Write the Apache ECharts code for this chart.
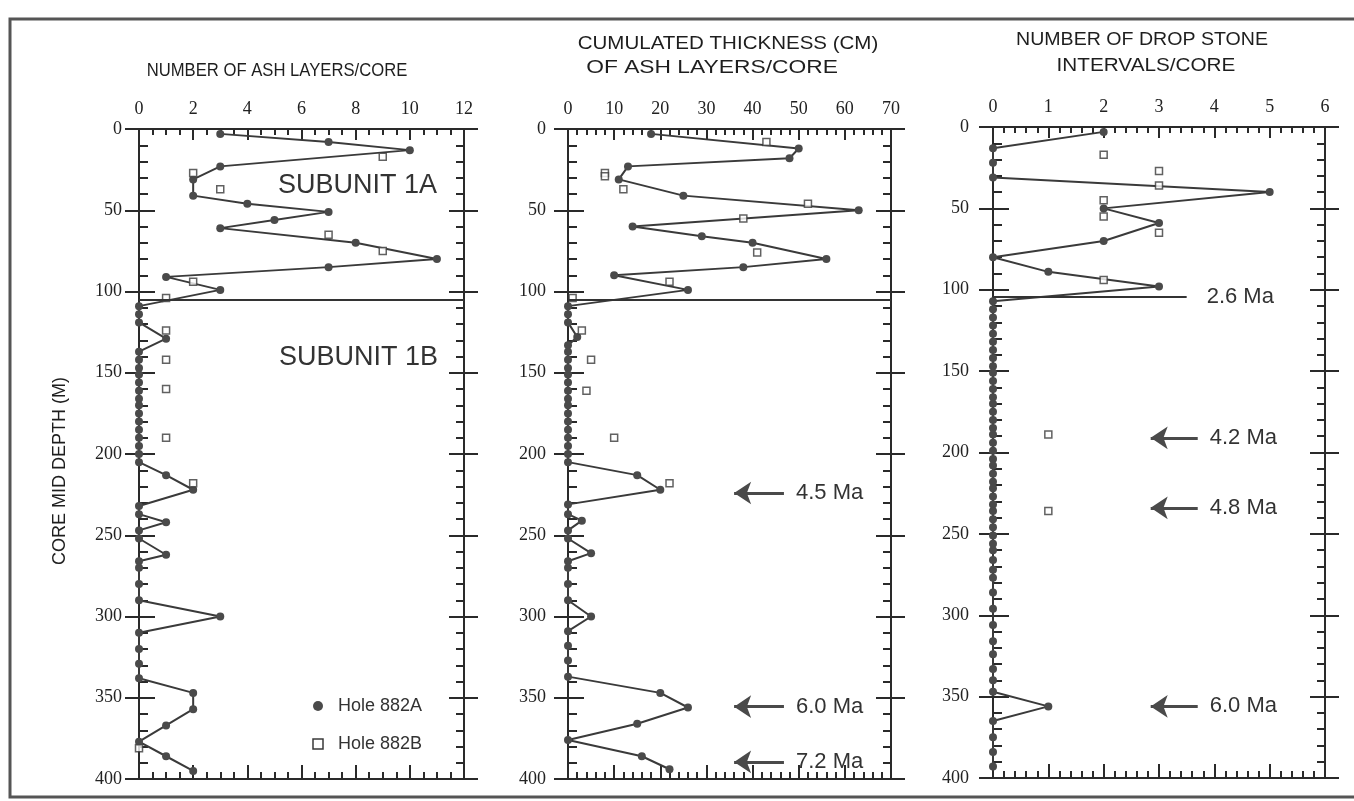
<!DOCTYPE html>
<html>
<head>
<meta charset="utf-8">
<script src="https://cdn.jsdelivr.net/npm/echarts@6/dist/echarts.min.js"></script>
<style>
html,body{margin:0;padding:0;background:#fff;}
#chart{width:1354px;height:801px;}
</style>
</head>
<body>
<div id="chart"></div>
<script>
// ---------- DATA ----------
// Panel 1: number of ash layers / core
const ashDepthA = [3,8,13,23,31,41,46,51,56,61,70,80,85,91,99,109,114,119,129,137,142,147,151,156,161,166,170,175,180,185,190,195,200,205,213,222,232,237,242,247,252,262,266,270,280,290,300,310,320,329,338,347,357,367,377,386,395];
const ashCountA = [3,7,10,3,2,2,4,7,5,3,8,11,7,1,3,0,0,0,1,0,0,0,0,0,0,0,0,0,0,0,0,0,0,0,1,2,0,0,1,0,0,1,0,0,0,0,3,0,0,0,0,2,2,1,0,1,2];
const ashDepthB = [17,27,37,65,75,94,104,124,142,160,190,218,381];
const ashCountB = [9,2,3,7,9,2,1,1,1,1,1,2,0];

// Panel 2: cumulated thickness (cm) of ash layers / core
const thickDepthA = [3,12,18,23,31,41,50,60,66,70,80,85,90,99,109,114,119,128,133,137,142,147,151,156,161,166,170,175,180,185,190,195,200,205,213,222,231,237,241,247,252,261,266,270,280,290,300,309,318,327,337,347,356,366,376,386,394];
const thickCmA    = [18,50,48,13,11,25,63,14,29,40,56,38,10,26,0,0,0,2,0,0,0,0,0,0,0,0,0,0,0,0,0,0,0,0,15,20,0,0,3,0,0,5,0,0,0,0,5,0,0,0,0,20,26,15,0,16,22];
const thickDepthB = [8,27,29,37,46,55,76,94,104,124,142,161,190,218];
const thickCmB    = [43,8,8,12,52,38,41,22,1,3,5,4,10,22];

// Panel 3: number of drop stone intervals / core
const dropDepthA = [3,13,22,31,40,50,59,70,80,89,98,107,112,117,122,127,132,137,142,147,151,156,161,166,170,175,180,185,189,194,199,204,208,213,218,222,227,232,236,241,246,251,256,260,266,272,277,286,296,306,316,324,333,340,347,356,365,375,384,393];
const dropCountA = [2,0,0,0,5,2,3,2,0,1,3,0,0,0,0,0,0,0,0,0,0,0,0,0,0,0,0,0,0,0,0,0,0,0,0,0,0,0,0,0,0,0,0,0,0,0,0,0,0,0,0,0,0,0,0,1,0,0,0,0];
const dropDepthB = [17,27,36,45,55,65,94,189,236];
const dropCountB = [2,3,3,2,2,3,2,1,1];

// axis tick label settings
const xMaxes = [12, 70, 6];
const xIntervals = [2, 10, 1];
const xMinorSplits = [4, 5, 5];
const depthMax = 400;
const depthInterval = 50;

// age annotations (depth in m)
const ageArrowsP2 = [{depth:224, label:'4.5 Ma'}, {depth:355.5, label:'6.0 Ma'}, {depth:389.5, label:'7.2 Ma'}];
const ageArrowsP3 = [{depth:191, label:'4.2 Ma'}, {depth:234, label:'4.8 Ma'}, {depth:356, label:'6.0 Ma'}];
const boundaryDepth = 105;

// ---------- BUILD ----------
function zip(xs, ys){ return ys.map((d,i)=>[xs[i], d]); }

const grids = [
  {left:139, top:129, width:325, height:650},
  {left:568, top:129, width:323, height:650},
  {left:993, top:127, width:332, height:651}
];
const labelMargins = [17, 22, 24];
const INK = '#2a2a2a';

const xAxes = [], yAxes = [];
grids.forEach((g, i) => {
  const baseX = {
    gridIndex:i, type:'value', min:0, max:xMaxes[i], interval:xIntervals[i],
    splitLine:{show:false},
    axisLine:{show:true, onZero:false, lineStyle:{color:INK, width:2}}
  };
  xAxes.push(Object.assign({}, baseX, {
    position:'top',
    axisTick:{show:true, inside:true, length:11, lineStyle:{color:INK, width:2}},
    minorTick:{show:true, splitNumber:xMinorSplits[i], length:6, lineStyle:{color:INK, width:2}},
    axisLabel:{show:true, fontFamily:'Liberation Serif', fontSize:18, color:'#222', margin:11}
  }));
  xAxes.push(Object.assign({}, baseX, {
    position:'bottom',
    axisTick:{show:true, inside:true, length:14, lineStyle:{color:INK, width:2}},
    minorTick:{show:true, splitNumber:xMinorSplits[i], length:7, lineStyle:{color:INK, width:2}},
    axisLabel:{show:false}
  }));
  const baseY = {
    gridIndex:i, type:'value', inverse:true, min:0, max:depthMax, interval:depthInterval,
    splitLine:{show:false},
    axisLine:{show:true, onZero:false, lineStyle:{color:INK, width:2}}
  };
  yAxes.push(Object.assign({}, baseY, {
    position:'left',
    axisTick:{show:true, inside:false, length:14, lineStyle:{color:INK, width:2}},
    axisLabel:{show:true, fontFamily:'Liberation Serif', fontSize:18, color:'#222', margin:labelMargins[i]}
  }));
  yAxes.push(Object.assign({}, baseY, {
    position:'left',
    axisTick:{show:true, inside:true, length:16, lineStyle:{color:INK, width:2}},
    minorTick:{show:true, splitNumber:5, length:9, lineStyle:{color:INK, width:2}},
    axisLabel:{show:false}
  }));
  yAxes.push(Object.assign({}, baseY, {
    position:'right',
    axisTick:{show:true, inside:false, length:14, lineStyle:{color:INK, width:2}},
    axisLabel:{show:false}
  }));
  yAxes.push(Object.assign({}, baseY, {
    position:'right',
    axisTick:{show:true, inside:true, length:15, lineStyle:{color:INK, width:2}},
    minorTick:{show:true, splitNumber:5, length:8, lineStyle:{color:INK, width:2}},
    axisLabel:{show:false}
  }));
});

function lineSeries(gi, data, markLine){
  const s = {
    type:'line', name:'Hole 882A', xAxisIndex:gi*2, yAxisIndex:gi*4,
    data:data, symbol:'circle', symbolSize:8, showSymbol:true,
    lineStyle:{color:'#3a3a3a', width:2},
    itemStyle:{color:'#4a4a4a'},
    silent:true, z:3
  };
  if (markLine) s.markLine = markLine;
  return s;
}
function squareSeries(gi, data, markLine){
  const s = {
    type:'scatter', name:'Hole 882B', xAxisIndex:gi*2, yAxisIndex:gi*4,
    data:data, symbol:'rect', symbolSize:7,
    itemStyle:{color:'#fff', borderColor:'#3a3a3a', borderWidth:1.5},
    silent:true, z:4
  };
  if (markLine) s.markLine = markLine;
  return s;
}
function arrowMarkLine(arrows, x1, x2){
  return {
    silent:true, symbol:['arrow','none'], symbolSize:17, animation:false,
    lineStyle:{color:'#4a4a4a', width:3, type:'solid'},
    label:{show:true, position:'end', distance:12, color:'#333', fontFamily:'Liberation Sans', fontSize:22},
    data: arrows.map(a => [
      {coord:[x1, a.depth]},
      {coord:[x2, a.depth], label:{formatter:a.label}}
    ])
  };
}
const boundaryFull = {
  silent:true, symbol:['none','none'], animation:false,
  lineStyle:{color:'#333', width:2, type:'solid'}, label:{show:false},
  data:[{yAxis:boundaryDepth}]
};
const boundaryP3 = {
  silent:true, symbol:['none','none'], animation:false,
  lineStyle:{color:'#333', width:2, type:'solid'},
  label:{show:true, position:'end', distance:20, color:'#333', fontFamily:'Liberation Sans', fontSize:22},
  data:[[{coord:[0, 104.5]}, {coord:[3.5, 104.5], label:{formatter:'2.6 Ma'}}]]
};

const series = [
  lineSeries(0, zip(ashCountA, ashDepthA)),
  squareSeries(0, zip(ashCountB, ashDepthB), boundaryFull),
  lineSeries(1, zip(thickCmA, thickDepthA), arrowMarkLine(ageArrowsP2, 36, 46.8)),
  squareSeries(1, zip(thickCmB, thickDepthB), boundaryFull),
  lineSeries(2, zip(dropCountA, dropDepthA), arrowMarkLine(ageArrowsP3, 2.85, 3.7)),
  squareSeries(2, zip(dropCountB, dropDepthB), boundaryP3)
];

const titleFont = 'Liberation Sans';
function txt(x, y, text, size, sx){
  return {
    type:'text', x:x, y:y, scaleX:sx || 1, originX:0, originY:0,
    style:{text:text, fill:'#1e1e1e', font:'normal ' + size + 'px ' + titleFont, textAlign:'center', textVerticalAlign:'middle'}
  };
}

const graphic = [
  {type:'rect', shape:{x:10, y:19, width:1350, height:778}, style:{fill:'none', stroke:'#555', lineWidth:3}, silent:true},
  // panel titles
  txt(277, 71, 'NUMBER OF ASH LAYERS/CORE', 18, 0.925),
  txt(728, 44, 'CUMULATED THICKNESS (CM)', 19, 1.08),
  txt(712, 68, 'OF ASH LAYERS/CORE', 19, 1.2),
  txt(1142, 40, 'NUMBER OF DROP STONE', 19, 1.03),
  txt(1146, 66, 'INTERVALS/CORE', 19, 1.09),
  // y axis name
  {type:'text', x:60, y:471, rotation:Math.PI/2,
   style:{text:'CORE MID DEPTH (M)', fill:'#1e1e1e', font:'normal 18px Liberation Sans', textAlign:'center', textVerticalAlign:'middle'}},
  // subunit labels
  {type:'text', x:278, y:186, style:{text:'SUBUNIT 1A', fill:'#333', font:'normal 27px Liberation Sans', textAlign:'left', textVerticalAlign:'middle'}},
  {type:'text', x:279, y:358, style:{text:'SUBUNIT 1B', fill:'#333', font:'normal 27px Liberation Sans', textAlign:'left', textVerticalAlign:'middle'}},
  // legend
  {type:'circle', shape:{cx:318, cy:706, r:5}, style:{fill:'#4a4a4a'}},
  {type:'text', x:338, y:706, style:{text:'Hole 882A', fill:'#333', font:'normal 18px Liberation Sans', textAlign:'left', textVerticalAlign:'middle'}},
  {type:'rect', shape:{x:313, y:739, width:10, height:10}, style:{fill:'#fff', stroke:'#3a3a3a', lineWidth:1.5}},
  {type:'text', x:338, y:744, style:{text:'Hole 882B', fill:'#333', font:'normal 18px Liberation Sans', textAlign:'left', textVerticalAlign:'middle'}}
];

const chart = echarts.init(document.getElementById('chart'), null, {renderer:'canvas'});
chart.setOption({
  backgroundColor:'#ffffff',
  animation:false,
  grid:grids,
  xAxis:xAxes,
  yAxis:yAxes,
  series:series,
  graphic:graphic
});
</script>
</body>
</html>
